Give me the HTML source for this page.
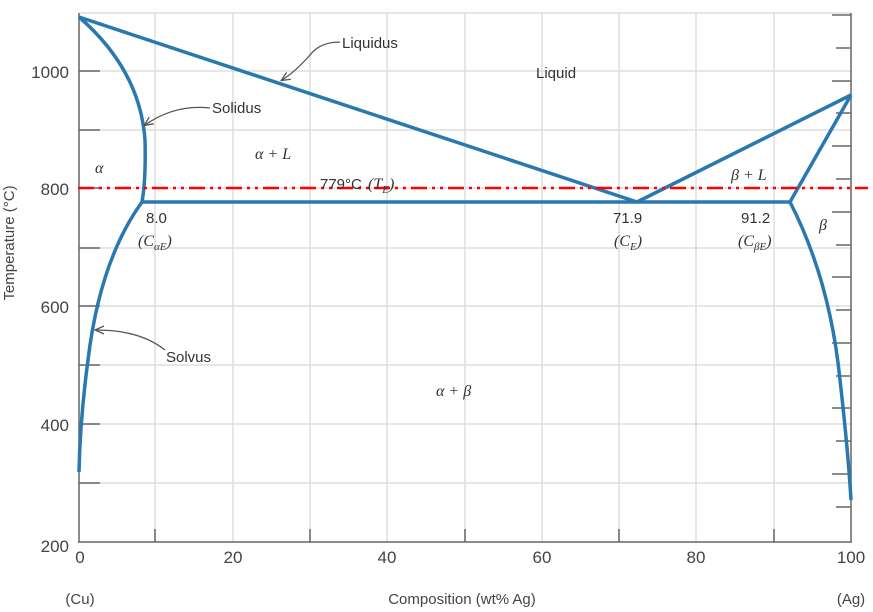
<!DOCTYPE html>
<html><head><meta charset="utf-8"><style>
body{margin:0;background:#fff;}
svg{display:block;font-family:"Liberation Sans",sans-serif;}
.s{font-family:"Liberation Serif",serif;font-style:italic;}
</style></head><body>
<svg width="873" height="612" viewBox="0 0 873 612">
<defs><marker id="a" markerWidth="10" markerHeight="10" refX="8" refY="5" orient="auto" markerUnits="userSpaceOnUse"><path d="M0,1 L9,5 L0,9" fill="none" stroke="#555" stroke-width="1.3"/></marker></defs>
<g stroke="#ddd" stroke-width="1.5">
<line x1="155" y1="13" x2="155" y2="542"/><line x1="233" y1="13" x2="233" y2="542"/>
<line x1="310" y1="13" x2="310" y2="542"/><line x1="387" y1="13" x2="387" y2="542"/>
<line x1="465" y1="13" x2="465" y2="542"/><line x1="542" y1="13" x2="542" y2="542"/>
<line x1="619" y1="13" x2="619" y2="542"/><line x1="696" y1="13" x2="696" y2="542"/>
<line x1="774" y1="13" x2="774" y2="542"/>
<line x1="79" y1="13" x2="851" y2="13"/>
<line x1="79" y1="71" x2="851" y2="71"/><line x1="79" y1="130" x2="851" y2="130"/>
<line x1="79" y1="188" x2="851" y2="188"/><line x1="79" y1="248" x2="851" y2="248"/>
<line x1="79" y1="306" x2="851" y2="306"/><line x1="79" y1="365" x2="851" y2="365"/>
<line x1="79" y1="424" x2="851" y2="424"/><line x1="79" y1="483" x2="851" y2="483"/>
</g>
<g stroke="#666" stroke-width="1.5">
<line x1="79" y1="13" x2="79" y2="542"/><line x1="851" y1="13" x2="851" y2="542"/>
<line x1="78" y1="542" x2="852" y2="542"/>
<line x1="79" y1="71" x2="100" y2="71"/><line x1="79" y1="130" x2="100" y2="130"/>
<line x1="79" y1="188" x2="100" y2="188"/><line x1="79" y1="248" x2="100" y2="248"/>
<line x1="79" y1="306" x2="100" y2="306"/><line x1="79" y1="365" x2="100" y2="365"/>
<line x1="79" y1="424" x2="100" y2="424"/><line x1="79" y1="483" x2="100" y2="483"/>
<line x1="155" y1="529" x2="155" y2="542"/><line x1="310" y1="529" x2="310" y2="542"/>
<line x1="465" y1="529" x2="465" y2="542"/><line x1="619" y1="529" x2="619" y2="542"/>
<line x1="774" y1="529" x2="774" y2="542"/>
</g>
<g stroke="#666" stroke-width="1.5">
<line x1="832" y1="15" x2="851" y2="15"/><line x1="836" y1="48" x2="851" y2="48"/>
<line x1="832" y1="81" x2="851" y2="81"/><line x1="836" y1="113" x2="851" y2="113"/>
<line x1="832" y1="146" x2="851" y2="146"/><line x1="836" y1="179" x2="851" y2="179"/>
<line x1="832" y1="212" x2="851" y2="212"/><line x1="836" y1="245" x2="851" y2="245"/>
<line x1="832" y1="277" x2="851" y2="277"/><line x1="836" y1="310" x2="851" y2="310"/>
<line x1="832" y1="343" x2="851" y2="343"/><line x1="836" y1="376" x2="851" y2="376"/>
<line x1="832" y1="408" x2="851" y2="408"/><line x1="836" y1="441" x2="851" y2="441"/>
<line x1="832" y1="474" x2="851" y2="474"/><line x1="836" y1="507" x2="851" y2="507"/>
</g>
<g fill="none" stroke="#2a78b0" stroke-width="3.5" stroke-linejoin="round">
<polyline points="79,17 637,202 851,95"/>
<path d="M79,17 Q140,70 145,140 Q146,180 142,202"/>
<line x1="142" y1="202" x2="790" y2="202"/>
<path d="M142,202 Q100,260 88,360 Q80,420 79,472"/>
<line x1="790" y1="202" x2="851" y2="95"/>
<path d="M790,202 Q830,280 840,380 Q848,450 851,500"/>
</g>
<line x1="78" y1="188" x2="868" y2="188" stroke="#f00" stroke-width="2.5" stroke-dasharray="16,5,3,5,3,5"/>
<g fill="none" stroke="#555" stroke-width="1.3">
<path d="M340,42 Q320,42 310,55 Q295,72 282,80" marker-end="url(#a)"/>
<path d="M210,108 Q175,104 145,125" marker-end="url(#a)"/>
<path d="M165,350 Q140,330 96,330" marker-end="url(#a)"/>
</g>
<g fill="#333" font-size="15">
<text x="342" y="48">Liquidus</text>
<text x="212" y="113">Solidus</text>
<text x="166" y="362">Solvus</text>
<text x="536" y="78">Liquid</text>
<text x="146" y="223">8.0</text>
<text x="613" y="223">71.9</text>
<text x="741" y="223">91.2</text>
<text x="320" y="189">779°C</text>
</g>
<g fill="#333" font-size="16" class="s">
<text x="95" y="173">α</text>
<text x="255" y="159">α  + L</text>
<text x="368" y="189">(T<tspan font-size="11" dy="4">E</tspan><tspan dy="-4">)</tspan></text>
<text x="138" y="246">(C<tspan font-size="11" dy="4">αE</tspan><tspan dy="-4">)</tspan></text>
<text x="614" y="246">(C<tspan font-size="11" dy="4">E</tspan><tspan dy="-4">)</tspan></text>
<text x="738" y="246">(C<tspan font-size="11" dy="4">βE</tspan><tspan dy="-4">)</tspan></text>
<text x="731" y="180">β + L</text>
<text x="819" y="230">β</text>
<text x="436" y="396">α  + β</text>
</g>
<g fill="#444" font-size="17" text-anchor="end">
<text x="69" y="78">1000</text><text x="69" y="195">800</text>
<text x="69" y="313">600</text><text x="69" y="431">400</text><text x="69" y="552">200</text>
</g>
<g fill="#444" font-size="17" text-anchor="middle">
<text x="80" y="563">0</text><text x="233" y="563">20</text><text x="387" y="563">40</text>
<text x="542" y="563">60</text><text x="696" y="563">80</text><text x="851" y="563">100</text>
</g>
<g fill="#444" font-size="15" text-anchor="middle">
<text x="80" y="604">(Cu)</text>
<text x="462" y="604">Composition (wt% Ag)</text>
<text x="851" y="604">(Ag)</text>
<text transform="translate(14,243) rotate(-90)">Temperature (°C)</text>
</g>
</svg>
</body></html>
